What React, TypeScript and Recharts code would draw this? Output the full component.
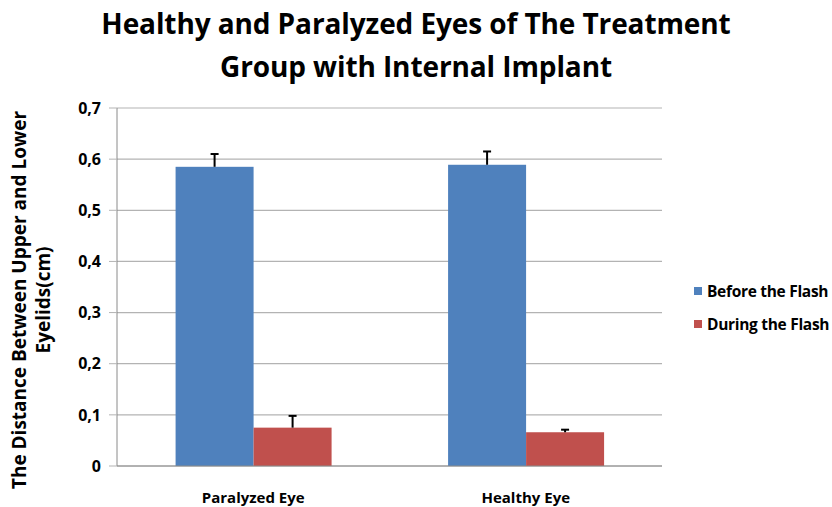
import { Bar, BarChart, CartesianGrid, XAxis, YAxis } from 'recharts'

const categories = ['Paralyzed Eye', 'Healthy Eye']
const beforeFlash = [0.585, 0.589]
const beforeFlashErr = [0.025, 0.026]
const duringFlash = [0.075, 0.066]
const duringFlashErr = [0.023, 0.005]
const yTicks = [0, 0.1, 0.2, 0.3, 0.4, 0.5, 0.6, 0.7]

const data = categories.map((name, i) => ({
  name,
  before: beforeFlash[i],
  beforeErr: beforeFlashErr[i],
  during: duringFlash[i],
  duringErr: duringFlashErr[i],
}))

const FONT = '"Open Sans", sans-serif'
const BLUE = '#4F81BD'
const RED = '#C0504D'

// bar with a plus-only error bar, error length scaled off the bar's own px/value ratio
const barWithError = (errKey: string) => (props: any) => {
  const { x, y, width, height, fill, payload, value } = props
  const v = Array.isArray(value) ? value[1] - value[0] : value
  const errPx = v ? (height * payload[errKey]) / v : 0
  const cx = x + width / 2
  return (
    <g>
      <rect x={x} y={y} width={width} height={height} fill={fill} />
      <line x1={cx} x2={cx} y1={y} y2={y - errPx} stroke="#000" strokeWidth={2} />
      <line x1={cx - 4} x2={cx + 4} y1={y - errPx} y2={y - errPx} stroke="#000" strokeWidth={2} />
    </g>
  )
}

const YLabel = () => (
  <text
    transform="translate(32, 300) rotate(-90)"
    textAnchor="middle"
    fontFamily={FONT}
    fontWeight={700}
    fontSize={19}
    fill="#000"
  >
    <tspan x={0} dy={-6}>The Distance Between Upper and Lower</tspan>
    <tspan x={0} dy={24}>Eyelids(cm)</tspan>
  </text>
)

const legendItems = [
  { label: 'Before the Flash', color: BLUE },
  { label: 'During the Flash', color: RED },
]

export default function App() {
  return (
    <div style={{ position: 'absolute', left: 0, top: 0, width: 832, height: 507, background: '#fff' }}>
      <div
        style={{
          position: 'absolute',
          left: 0,
          top: 2,
          width: 832,
          textAlign: 'center',
          fontFamily: FONT,
          fontWeight: 700,
          fontSize: 28,
          lineHeight: '43px',
          letterSpacing: -0.1,
          color: '#000',
        }}
      >
        Healthy and Paralyzed Eyes of The Treatment
        <br />
        Group with Internal Implant
      </div>
      <div
        style={{
          position: 'absolute',
          left: 694,
          top: 274,
          fontFamily: FONT,
          fontWeight: 700,
          fontSize: 15.5,
          color: '#000',
        }}
      >
        {legendItems.map((item) => (
          <div key={item.label} style={{ display: 'flex', alignItems: 'center', height: 33 }}>
            <div style={{ width: 8, height: 8, background: item.color, marginRight: 5 }} />
            <span style={{ letterSpacing: -0.3 }}>{item.label}</span>
          </div>
        ))}
      </div>
      <BarChart
        width={832}
        height={507}
        data={data}
        margin={{ top: 108, right: 170, left: 47, bottom: 0 }}
        barCategoryGap="21.5%"
        barGap={0}
        style={{ position: 'absolute', left: 0, top: 0 }}
      >
        <CartesianGrid vertical={false} stroke="#b3b3b3" strokeWidth={1.2} />
        <XAxis
          dataKey="name"
          height={41}
          axisLine={{ stroke: '#8a8a8a' }}
          tickLine={false}
          tick={{ fontFamily: FONT, fontWeight: 700, fontSize: 15, fill: '#000' }}
          tickMargin={20}
        />
        <YAxis
          width={70}
          domain={[0, 0.7]}
          ticks={yTicks}
          interval={0}
          axisLine={{ stroke: '#8a8a8a' }}
          tickLine={{ stroke: '#b3b3b3' }}
          tickSize={8}
          tickMargin={8}
          tickFormatter={(v: number) => (v === 0 ? '0' : v.toFixed(1).replace('.', ','))}
          tick={{ fontFamily: FONT, fontWeight: 700, fontSize: 16, fill: '#000' }}
          label={<YLabel />}
        />
        <Bar dataKey="before" fill={BLUE} isAnimationActive={false} shape={barWithError('beforeErr')} />
        <Bar dataKey="during" fill={RED} isAnimationActive={false} shape={barWithError('duringErr')} />
      </BarChart>
    </div>
  )
}
